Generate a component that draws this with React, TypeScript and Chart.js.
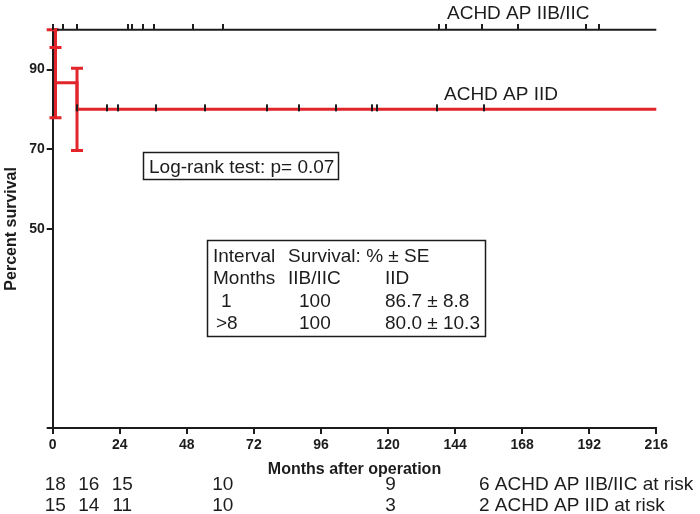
import { useEffect, useRef } from 'react';
import { Chart, registerables } from 'chart.js';

Chart.register(...registerables);

const FONT = '"Liberation Sans", Arial, Helvetica, sans-serif';
const INK = '#1c1c1c';
const RED = '#e2252b';

const groupNames = ['ACHD AP IIB/IIC', 'ACHD AP IID'];
const xTickValues = [0, 24, 48, 72, 96, 120, 144, 168, 192, 216];
const yTickValues = [0, 50, 70, 90];

const survivalTimesA = [0, 216];
const survivalValuesA = [100, 100];
const survivalTimesB = [0, 1, 8.7, 216];
const survivalValuesB = [100, 86.7, 80, 80];

const censorTimesA = [0.1, 3.7, 8.7, 26.9, 28.4, 32.3, 36.3, 50.2, 61, 138.3, 140.8, 153.7, 166.6, 190.9, 195.6];
const censorTimesB = [8.7, 19.3, 23.3, 37, 54.5, 76.6, 88.1, 101.4, 114.4, 116, 137.5, 154.5];

const errorTimesB = [0, 1, 8.7];
const errorValuesB = [100, 86.7, 80];
const errorSEB = [0, 8.8, 10.3];

const atRiskTimes = [0, 12, 24, 60, 120];
const atRiskA = [18, 16, 15, 10, 9];
const atRiskB = [15, 14, 11, 10, 3];
const atRiskEnd = [6, 2];

const logRankText = 'Log-rank test: p= 0.07';
const tableRows = [
  ['Interval', 'Survival: % \u00b1 SE', ''],
  ['Months', 'IIB/IIC', 'IID'],
  ['1', '100', '86.7 \u00b1 8.8'],
  ['>8', '100', '80.0 \u00b1 10.3'],
];

function makeTick(height: number, from: number, to: number) {
  const c = document.createElement('canvas');
  c.width = 2;
  c.height = height;
  const g = c.getContext('2d');
  if (g) {
    g.fillStyle = INK;
    g.fillRect(0, from, 2, to - from);
  }
  return c;
}

const annotations = {
  id: 'kmAnnotations',
  beforeDatasetsDraw(chart: any) {
    const { ctx, scales } = chart;
    const xs = scales.x;
    const ys = scales.y;
    ctx.save();
    ctx.strokeStyle = RED;
    ctx.lineWidth = 3;
    ctx.lineCap = 'butt';
    errorTimesB.forEach((t, i) => {
      const px = xs.getPixelForValue(t);
      const yU = ys.getPixelForValue(errorValuesB[i] + errorSEB[i]);
      const yL = ys.getPixelForValue(errorValuesB[i] - errorSEB[i]);
      ctx.beginPath();
      ctx.moveTo(px, yU);
      ctx.lineTo(px, yL);
      ctx.moveTo(px - 6, yU);
      ctx.lineTo(px + 6, yU);
      ctx.moveTo(px - 6, yL);
      ctx.lineTo(px + 6, yL);
      ctx.stroke();
    });
    ctx.restore();
  },
  afterDraw(chart: any) {
    const { ctx, scales, chartArea } = chart;
    const xs = scales.x;
    ctx.save();
    ctx.fillStyle = INK;
    ctx.strokeStyle = INK;
    ctx.textBaseline = 'alphabetic';

    ctx.font = `19px ${FONT}`;
    ctx.textAlign = 'left';
    ctx.fillText(groupNames[0], 447, 19);
    ctx.fillText(groupNames[1], 444, 100);

    ctx.lineWidth = 1.5;
    ctx.strokeRect(143.5, 152.5, 195, 27);
    ctx.fillText(logRankText, 149, 173);

    ctx.strokeRect(207.5, 240.5, 278, 96);
    const colX = [213, 288, 385];
    const rowY = [262, 284, 307, 329];
    const indent = [[0, 0, 0], [0, 0, 0], [8, 11, 0], [3, 11, 0]];
    tableRows.forEach((row, r) => {
      row.forEach((cell, c) => {
        if (cell) ctx.fillText(cell, colX[c] + indent[r][c], rowY[r]);
      });
    });

    ctx.font = `bold 16px ${FONT}`;
    ctx.textAlign = 'center';
    ctx.fillText('Months after operation', (chartArea.left + chartArea.right) / 2, 473.5);
    ctx.save();
    ctx.translate(15.5, (chartArea.top + chartArea.bottom) / 2);
    ctx.rotate(-Math.PI / 2);
    ctx.fillText('Percent survival', 0, 0);
    ctx.restore();

    ctx.font = `19px ${FONT}`;
    ctx.textAlign = 'center';
    atRiskTimes.forEach((t, i) => {
      const px = xs.getPixelForValue(t) + 2.5;
      ctx.fillText(String(atRiskA[i]), px, 490);
      ctx.fillText(String(atRiskB[i]), px, 510.5);
    });
    ctx.textAlign = 'left';
    ctx.fillText(`${atRiskEnd[0]} ${groupNames[0]} at risk`, 479, 490);
    ctx.fillText(`${atRiskEnd[1]} ${groupNames[1]} at risk`, 479, 510.5);
    ctx.restore();
  },
};

export default function App() {
  const canvasRef = useRef<HTMLCanvasElement | null>(null);

  useEffect(() => {
    document.body.style.margin = '0';
    const canvas = canvasRef.current;
    if (!canvas) return;

    const lineA = survivalTimesA.map((t, i) => ({ x: t, y: survivalValuesA[i] }));
    const lineB = survivalTimesB.map((t, i) => ({ x: t, y: survivalValuesB[i] }));
    const censA = censorTimesA.map((t) => ({ x: t, y: survivalValuesA[survivalValuesA.length - 1] }));
    const censB = censorTimesB.map((t) => ({ x: t, y: survivalValuesB[survivalValuesB.length - 1] }));

    const tickUp = makeTick(12, 0, 6);
    const tickMid = makeTick(14, 2, 9);

    const censorBase = {
      showLine: false,
      pointRadius: 4,
      pointHoverRadius: 4,
      borderColor: INK,
      backgroundColor: INK,
      clip: false,
    };

    const chart = new Chart(canvas, {
      type: 'line',
      data: {
        datasets: [
          { label: 'censA', data: censA, pointStyle: tickUp, ...censorBase } as any,
          { label: 'censB', data: censB, pointStyle: tickMid, ...censorBase } as any,
          {
            label: groupNames[1],
            data: lineB,
            stepped: true,
            borderColor: RED,
            borderWidth: 3,
            pointRadius: 0,
            fill: false,
            clip: false,
          },
          {
            label: groupNames[0],
            data: lineA,
            stepped: true,
            borderColor: INK,
            borderWidth: 2,
            pointRadius: 0,
            fill: false,
            clip: false,
          },
        ],
      },
      options: {
        animation: false,
        responsive: false,
        maintainAspectRatio: false,
        events: [],
        layout: { padding: { left: 0, right: 43.7, top: 29.7, bottom: 56 } },
        plugins: { legend: { display: false }, tooltip: { enabled: false } },
        scales: {
          x: {
            type: 'linear',
            min: 0,
            max: 216,
            afterBuildTicks: (scale: any) => {
              scale.ticks = xTickValues.map((v) => ({ value: v }));
            },
            afterFit: (scale: any) => {
              scale.height = 30;
            },
            ticks: {
              autoSkip: false,
              maxRotation: 0,
              padding: 3,
              color: INK,
              font: { family: FONT, size: 14, weight: 'bold' },
            },
            grid: { drawOnChartArea: false, drawTicks: true, tickLength: 6, lineWidth: 2, color: INK },
            border: { display: true, color: INK, width: 2 },
          },
          y: {
            type: 'linear',
            min: 0,
            max: 100,
            afterBuildTicks: (scale: any) => {
              scale.ticks = yTickValues.map((v) => ({ value: v }));
            },
            afterFit: (scale: any) => {
              scale.width = 52.7;
            },
            ticks: {
              autoSkip: false,
              padding: 2,
              color: INK,
              font: { family: FONT, size: 14, weight: 'bold' },
              callback: (v: any) => (v === 0 ? '' : String(v)),
            },
            grid: { drawOnChartArea: false, drawTicks: true, tickLength: 6, lineWidth: 2, color: INK },
            border: { display: true, color: INK, width: 2 },
          },
        },
      },
      plugins: [annotations],
    } as any);

    return () => chart.destroy();
  }, []);

  return <canvas ref={canvasRef} width={700} height={514} style={{ display: 'block', width: 700, height: 514 }} />;
}
